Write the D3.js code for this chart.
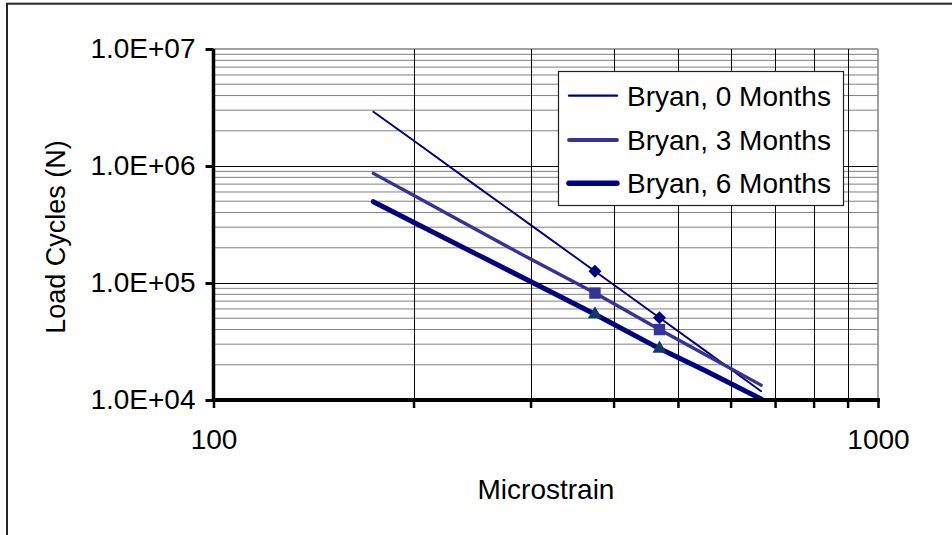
<!DOCTYPE html>
<html><head><meta charset="utf-8">
<script src="https://cdn.jsdelivr.net/npm/d3@7"></script>
<style>
body{margin:0;background:#fff;}
text{font-family:"Liberation Sans",Arial,sans-serif;fill:#000;}
</style></head>
<body><svg id="c" width="952" height="535"></svg>
<script>
const xValues = [174, 200, 250, 300, 375, 469, 550, 667];
const bryan0 = [2.91e6, 1.65e6, 6.6e5, 3.14e5, 1.26e5, 5.04e4, 2.63e4, 1.19e4];
const bryan3 = [8.65e5, 5.62e5, 2.81e5, 1.60e5, 8.2e4, 4.0e4, 2.44e4, 1.34e4];
const bryan6 = [4.95e5, 3.31e5, 1.74e5, 1.03e5, 5.4e4, 2.75e4, 1.78e4, 1.02e4];
const markerX = [375, 469];
const markers0 = [1.26e5, 5.04e4];
const markers3 = [8.2e4, 4.0e4];
const markers6 = [5.4e4, 2.75e4];
const seriesNames = ["Bryan, 0 Months", "Bryan, 3 Months", "Bryan, 6 Months"];
const yTickValues = [1e4, 1e5, 1e6, 1e7];
const yTickLabels = ["1.0E+04", "1.0E+05", "1.0E+06", "1.0E+07"];
const xTickValues = [100, 200, 300, 400, 500, 600, 700, 800, 900, 1000];
const xTickLabels = {100: "100", 1000: "1000"};

const svg = d3.select("#c");
const L = 213.5, R = 878, T = 49, B = 400;
const x = d3.scaleLog().domain([100, 1000]).range([L, R]);
const y = d3.scaleLog().domain([1e4, 1e7]).range([B, T]);

// outer frame
svg.append("rect").attr("x", 7).attr("y", 3.7).attr("width", 1000).attr("height", 600)
  .attr("fill", "none").attr("stroke", "#262626").attr("stroke-width", 2);

// horizontal gridlines
const minorY = [];
[1e4, 1e5, 1e6].forEach(d => { for (let k = 2; k <= 9; k++) minorY.push(d * k); });
svg.append("g").selectAll("line").data(minorY).join("line")
  .attr("x1", L).attr("x2", R).attr("y1", d => y(d)).attr("y2", d => y(d))
  .attr("stroke", "#808080").attr("stroke-width", 1);
svg.append("g").selectAll("line").data([1e5, 1e6]).join("line")
  .attr("x1", L).attr("x2", R).attr("y1", d => Math.round(y(d)) + 0.5).attr("y2", d => Math.round(y(d)) + 0.5)
  .attr("stroke", "#000").attr("stroke-width", 1);
svg.append("line").attr("x1", L).attr("x2", R).attr("y1", y(1e7)).attr("y2", y(1e7))
  .attr("stroke", "#808080").attr("stroke-width", 1.5);
// vertical gridlines
svg.append("g").selectAll("line").data(xTickValues.slice(1, -1)).join("line")
  .attr("x1", d => Math.round(x(d)) + 0.5).attr("x2", d => Math.round(x(d)) + 0.5).attr("y1", T).attr("y2", B)
  .attr("stroke", "#000").attr("stroke-width", 1);
svg.append("line").attr("x1", R).attr("x2", R).attr("y1", T).attr("y2", B)
  .attr("stroke", "#808080").attr("stroke-width", 1.5);

// clip
svg.append("clipPath").attr("id", "clip").append("rect")
  .attr("x", L).attr("y", T).attr("width", R - L).attr("height", B - T);

const line = d3.line().x(d => x(d[0])).y(d => y(d[1]));
const series = [
  {vals: bryan0, color: "#000080", w: 1.9, marks: markers0, shape: d3.symbolSquare, rot: 45, msize: 85, mcolor: "#000080"},
  {vals: bryan3, color: "#333399", w: 3.4, marks: markers3, shape: d3.symbolSquare, rot: 0, msize: 130, mcolor: "#333399"},
  {vals: bryan6, color: "#000080", w: 5, marks: markers6, shape: d3.symbolTriangle, rot: 0, msize: 85, mcolor: "#10386a"}
];
const g = svg.append("g").attr("clip-path", "url(#clip)");
series.forEach(s => {
  g.append("path").datum(xValues.map((v, i) => [v, s.vals[i]]))
    .attr("d", line).attr("fill", "none").attr("stroke", s.color)
    .attr("stroke-width", s.w).attr("stroke-linejoin", "round").attr("stroke-linecap", "round");
});
series.forEach(s => {
  g.append("g").selectAll("path").data(markerX.map((v, i) => [v, s.marks[i]])).join("path")
    .attr("transform", d => `translate(${x(d[0])},${y(d[1])}) rotate(${s.rot})`)
    .attr("d", d3.symbol().type(s.shape).size(s.msize)).attr("fill", s.mcolor);
});

// axes
const yAxis = d3.axisLeft(y).tickValues(yTickValues).tickSize(8).tickPadding(10)
  .tickFormat((d, i) => yTickLabels[i]);
const gy = svg.append("g").attr("transform", `translate(${L},0)`).call(yAxis);
gy.select(".domain").attr("stroke", "#000").attr("stroke-width", 3.5).attr("d", `M0,${T}V${B}`);
gy.selectAll(".tick line").attr("stroke", "#000").attr("stroke-width", 3);
gy.selectAll(".tick text").attr("font-size", 28).attr("font-family", "Liberation Sans, Arial, sans-serif").attr("fill", "#000");

const xAxis = d3.axisBottom(x).tickValues(xTickValues).tickSize(8).tickPadding(21)
  .tickFormat(d => xTickLabels[d] || "");
const gx = svg.append("g").attr("transform", `translate(0,${B})`).call(xAxis);
gx.select(".domain").attr("stroke", "#000").attr("stroke-width", 4).attr("d", `M${L - 1.5},0H${R + 2}`);
gx.selectAll(".tick line").attr("stroke", "#000").attr("stroke-width", 2.5);
gx.selectAll(".tick text").attr("font-size", 28).attr("font-family", "Liberation Sans, Arial, sans-serif").attr("fill", "#000");

// axis titles
svg.append("text").attr("x", 546).attr("y", 499).attr("text-anchor", "middle")
  .attr("font-size", 28).text("Microstrain");
svg.append("text").attr("transform", "translate(65,237) rotate(-90)").attr("text-anchor", "middle")
  .attr("font-size", 27).text("Load Cycles (N)");

// legend
const lg = svg.append("g");
lg.append("rect").attr("x", 558.5).attr("y", 71.5).attr("width", 285).attr("height", 134)
  .attr("fill", "#fff").attr("stroke", "#222").attr("stroke-width", 1.2);
const rowsY = [95.7, 140, 183.3];
series.forEach((s, i) => {
  lg.append("line").attr("x1", 569).attr("x2", 617).attr("y1", rowsY[i]).attr("y2", rowsY[i])
    .attr("stroke", s.color).attr("stroke-width", s.w + 0.4).attr("stroke-linecap", "round");
  lg.append("text").attr("x", 627).attr("y", rowsY[i] + 10).attr("font-size", 28).text(seriesNames[i]);
});
</script></body></html>
